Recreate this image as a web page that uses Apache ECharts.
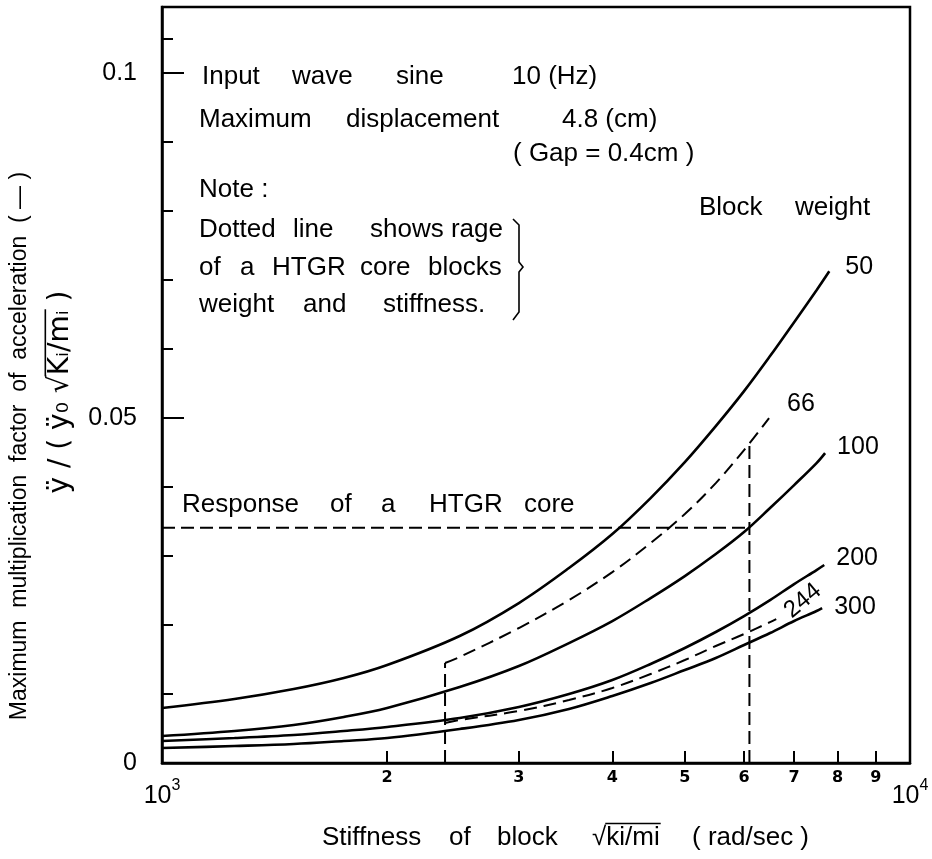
<!DOCTYPE html>
<html>
<head>
<meta charset="utf-8">
<script src="https://cdn.jsdelivr.net/npm/echarts@6/dist/echarts.min.js"></script>
<style>
  html, body { margin: 0; padding: 0; background: #fff; }
  #chart { width: 932px; height: 859px; }
</style>
</head>
<body>
<div id="chart"></div>
<script>
// Maximum multiplication factor of acceleration against block stiffness,
// one curve per block weight: [stiffness (rad/sec), factor]
const weight50 = [
  [1000, 0.00797], [1250, 0.00928], [1500, 0.01072], [1750, 0.01232], [2000, 0.01420],
  [2500, 0.01841], [3000, 0.02319], [3500, 0.02826], [4000, 0.03319], [4500, 0.03841],
  [5000, 0.04362], [5500, 0.04884], [6000, 0.05391], [6500, 0.05899], [7000, 0.06391],
  [7500, 0.06855], [7800, 0.07130]
];
const weight66 = [
  [2390, 0.01449], [2500, 0.01536], [3000, 0.01957], [3500, 0.02362], [4000, 0.02768],
  [4500, 0.03188], [5000, 0.03609], [5500, 0.04058], [6000, 0.04536], [6480, 0.05000]
];
const weight100 = [
  [1000, 0.00391], [1250, 0.00464], [1500, 0.00551], [1750, 0.00667], [2000, 0.00797],
  [2500, 0.01101], [3000, 0.01406], [3500, 0.01739], [4000, 0.02058], [4500, 0.02391],
  [5000, 0.02710], [5500, 0.03029], [6000, 0.03348], [6500, 0.03696], [7000, 0.04029],
  [7500, 0.04348], [7700, 0.04493]
];
const weight200 = [
  [1000, 0.00319], [1250, 0.00362], [1500, 0.00406], [1750, 0.00464], [2000, 0.00522],
  [2500, 0.00652], [3000, 0.00812], [3500, 0.01000], [4000, 0.01203], [4500, 0.01435],
  [5000, 0.01667], [5500, 0.01899], [6000, 0.02130], [6500, 0.02362], [7000, 0.02594],
  [7500, 0.02797], [7680, 0.02870]
];
const weight244 = [
  [2390, 0.00580], [2500, 0.00623], [3000, 0.00754], [3500, 0.00913], [4000, 0.01087],
  [4500, 0.01290], [5000, 0.01493], [5500, 0.01696], [6000, 0.01870], [6500, 0.02043],
  [6625, 0.02087]
];
const weight300 = [
  [1000, 0.00217], [1250, 0.00246], [1500, 0.00275], [1750, 0.00319], [2000, 0.00362],
  [2500, 0.00493], [3000, 0.00623], [3500, 0.00783], [4000, 0.00971], [4500, 0.01159],
  [5000, 0.01348], [5500, 0.01522], [6000, 0.01710], [6500, 0.01884], [7000, 0.02058],
  [7500, 0.02203], [7630, 0.02246]
];

// HTGR core range (stiffness limits) and its response level
const rangeLow = 2390;
const rangeHigh = 6100;
const rangeHighTop = 0.04638;
const coreResponse = 0.0341;

// Axis ticks and labels
const stiffnessTicks = [1000, 2000, 3000, 4000, 5000, 6000, 7000, 8000, 9000, 10000];
const factorMinorTicks = [0.01, 0.02, 0.03, 0.04, 0.06, 0.07, 0.08, 0.09, 0.105];
const factorMajorTicks = [0.05, 0.1];
const factorLabels = [0, 0.05, 0.1];

const FONT = '"Liberation Sans", "DejaVu Sans", sans-serif';
const NOTE_FONT = '26px ' + FONT;
const INK = '#000';

const measureCtx = document.createElement('canvas').getContext('2d');
function textWidth(str, font) {
  measureCtx.font = font;
  return measureCtx.measureText(str).width;
}

function curve(name, data, dashed, label) {
  return {
    name: name,
    type: 'line',
    data: data,
    showSymbol: false,
    smooth: 0.35,
    silent: true,
    lineStyle: { color: INK, width: dashed ? 2 : 2.6, type: dashed ? [13, 7] : 'solid' },
    endLabel: Object.assign({
      show: true,
      formatter: name,
      color: INK,
      fontFamily: FONT,
      fontSize: 25
    }, label || {})
  };
}

function refLine(data) {
  return {
    type: 'line',
    data: data,
    showSymbol: false,
    silent: true,
    lineStyle: { color: INK, width: 2, type: [13, 6] }
  };
}

// words placed one by one along a text line: [x, word]
function wordLine(y, words) {
  return words.map(function (w) {
    return {
      type: 'text', x: w[0], y: y, silent: true,
      style: { text: w[1], font: NOTE_FONT, fill: INK, verticalAlign: 'middle' }
    };
  });
}

// a radical with its bar drawn over the radicand
function radicalText(x, y, pre, rad, post, font, size, rotation, centered) {
  const wPre = textWidth(pre, font);
  const wRad = textWidth(rad, font);
  const wPost = textWidth(post, font);
  const start = centered ? -(wPre + wRad + wPost) / 2 : 0;
  const top = -size * 0.56;
  return {
    type: 'group', x: x, y: y, rotation: rotation || 0, silent: true,
    children: [
      { type: 'text', x: start, y: 0, style: { text: pre, font: font, fill: INK, verticalAlign: 'middle' } },
      { type: 'text', x: start + wPre, y: 0, style: { text: rad, font: font, fill: INK, verticalAlign: 'middle' } },
      { type: 'text', x: start + wPre + wRad, y: 0, style: { text: post, font: font, fill: INK, verticalAlign: 'middle' } },
      { type: 'line', shape: { x1: start + wPre - 1, y1: top, x2: start + wPre + wRad + 1, y2: top }, style: { stroke: INK, lineWidth: 1.6 } }
    ]
  };
}

const chart = echarts.init(document.getElementById('chart'), null, { renderer: 'canvas' });

const graphics = []
  .concat(wordLine(77, [[202, 'Input'], [292, 'wave'], [396, 'sine'], [512, '10 (Hz)']]))
  .concat(wordLine(120, [[199, 'Maximum'], [346, 'displacement'], [562, '4.8 (cm)']]))
  .concat(wordLine(154, [[513, '( Gap = 0.4cm )']]))
  .concat(wordLine(190, [[199, 'Note :']]))
  .concat(wordLine(230, [[199, 'Dotted'], [293, 'line'], [370, 'shows rage']]))
  .concat(wordLine(268, [[199, 'of'], [240, 'a'], [272, 'HTGR'], [360, 'core'], [428, 'blocks']]))
  .concat(wordLine(305, [[199, 'weight'], [303, 'and'], [383, 'stiffness.']]))
  .concat(wordLine(208, [[699, 'Block'], [795, 'weight']]))
  .concat(wordLine(505, [[182, 'Response'], [330, 'of'], [381, 'a'], [429, 'HTGR'], [524, 'core']]))
  .concat(wordLine(838, [[322, 'Stiffness'], [449, 'of'], [497, 'block'], [692, '( rad/sec )']]))
  .concat([
    radicalText(592, 838, '\u221A', 'ki/mi', '', NOTE_FONT, 26, 0, false),
    {
      type: 'polyline', silent: true,
      shape: { points: [[513, 219], [519, 225], [519, 262], [523, 267], [519, 272], [519, 312], [513, 320]] },
      style: { stroke: INK, lineWidth: 1.6, fill: null }
    },
    {
      type: 'text', x: 20, y: 446, rotation: Math.PI / 2, silent: true,
      style: { text: 'Maximum  multiplication  factor  of  acceleration  ( — )', align: 'center', verticalAlign: 'middle', fill: INK, font: '23px ' + FONT }
    },
    radicalText(61, 392, '\u00FF / ( \u00FF\u2080 \u221A', 'K\u1D62/m\u1D62', ' )', '28px "DejaVu Sans", sans-serif', 28, Math.PI / 2, true)
  ]);

chart.setOption({
  animation: false,
  backgroundColor: '#fff',
  grid: {
    left: 162, right: 22, top: 7, bottom: 96,
    show: true, borderColor: INK, borderWidth: 2.5, backgroundColor: 'transparent'
  },
  xAxis: {
    type: 'log',
    logBase: 10,
    min: 1000,
    max: 10000,
    axisLine: { lineStyle: { color: INK, width: 2.5 } },
    axisTick: { inside: true, length: 12, customValues: stiffnessTicks, lineStyle: { color: INK, width: 2 } },
    splitLine: { show: false },
    minorTick: { show: false },
    axisLabel: {
      customValues: stiffnessTicks,
      margin: 7,
      color: INK,
      fontFamily: '"DejaVu Sans", sans-serif',
      fontSize: 16,
      fontWeight: 'bold',
      formatter: function (v) {
        if (v === 1000) return '{b|10}{s|3}';
        if (v === 10000) return '{b|10}{s|4}';
        return String(Math.round(v / 1000));
      },
      rich: {
        b: { fontFamily: FONT, fontSize: 25, fontWeight: 'normal', color: INK, padding: [14, 0, 0, 0] },
        s: { fontFamily: FONT, fontSize: 16, fontWeight: 'normal', color: INK, padding: [0, 0, 8, 0] }
      }
    }
  },
  yAxis: [
    {
      type: 'value',
      min: 0,
      max: 0.1096,
      axisLine: { show: true, lineStyle: { color: INK, width: 2.5 } },
      axisTick: { show: true, inside: true, length: 11, customValues: factorMinorTicks, lineStyle: { color: INK, width: 2 } },
      axisLabel: { show: false },
      splitLine: { show: false }
    },
    {
      type: 'value',
      min: 0,
      max: 0.1096,
      position: 'left',
      axisLine: { show: false },
      axisTick: { show: true, inside: true, length: 22, customValues: factorMajorTicks, lineStyle: { color: INK, width: 2 } },
      axisLabel: {
        customValues: factorLabels,
        margin: 25,
        color: INK,
        fontFamily: FONT,
        fontSize: 25,
        formatter: function (v) { return v === 0 ? '0' : (v === 0.05 ? '0.05' : '0.1'); }
      },
      splitLine: { show: false }
    }
  ],
  series: [
    curve('50', weight50, false, { offset: [8, -4] }),
    curve('66', weight66, true, { offset: [10, -14] }),
    curve('100', weight100, false, { offset: [4, -6] }),
    curve('200', weight200, false, { offset: [4, -7] }),
    curve('244', weight244, true, { rotate: 40, offset: [6, -2], fontSize: 24 }),
    curve('300', weight300, false, { offset: [4, -1] }),
    refLine([[1000, coreResponse], [rangeHigh, coreResponse]]),
    refLine([[rangeLow, 0], [rangeLow, weight66[0][1]]]),
    refLine([[rangeHigh, 0], [rangeHigh, rangeHighTop]])
  ],
  graphic: graphics
});
</script>
</body>
</html>
